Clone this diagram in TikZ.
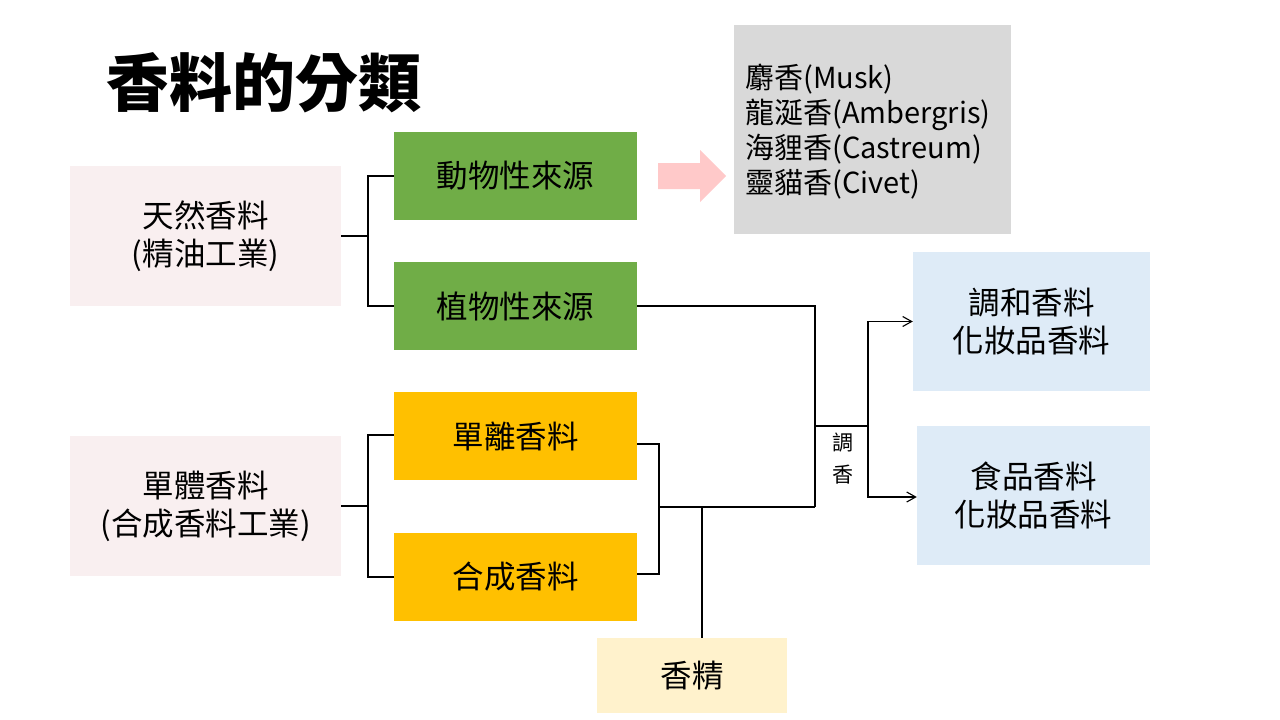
\documentclass[tikz,border=0pt]{standalone}
\usepackage{fontspec}
\setmainfont{Noto Sans CJK TC}
\usetikzlibrary{arrows.meta}
\definecolor{pinkbox}{HTML}{F9EFF0}
\definecolor{greenbox}{HTML}{70AD47}
\definecolor{orangebox}{HTML}{FFC000}
\definecolor{yellowbox}{HTML}{FFF2CC}
\definecolor{bluebox}{HTML}{DEEBF7}
\definecolor{greybox}{HTML}{D9D9D9}
\definecolor{pinkarrow}{HTML}{FFC9C9}
\tikzset{
  box/.style={draw=none, inner sep=0pt, align=center, font=\fontsize{31.5}{38}\selectfont, text=black},
  conn/.style={draw=black, line width=1.3pt},
  arr/.style={conn, -{Straight Barb[length=9pt,width=10pt,line width=1.1pt]}},
}
\begin{document}
\begin{tikzpicture}[x=1pt,y=-1pt]
\useasboundingbox (0,0) rectangle (1280,720);
\fill[white] (0,0) rectangle (1280,720);
% title
\node[font=\fontsize{63}{68}\selectfont\bfseries] (title) at (264,83) {香料的分類};
% boxes
\node[box, fill=pinkbox, minimum width=271pt, minimum height=140pt] (nat) at (205.5,236) {天然香料\\(精油工業)};
\node[box, fill=greenbox, minimum width=243pt, minimum height=88pt] (ani) at (515.5,176) {動物性來源};
\node[box, fill=greenbox, minimum width=243pt, minimum height=88pt] (pla) at (515.5,306) {植物性來源};
\node[box, fill=pinkbox, minimum width=271pt, minimum height=140pt] (mono) at (205.5,506) {單體香料\\(合成香料工業)};
\node[box, fill=orangebox, minimum width=243pt, minimum height=88pt] (iso) at (515.5,436) {單離香料};
\node[box, fill=orangebox, minimum width=243pt, minimum height=88pt] (syn) at (515.5,577) {合成香料};
\node[box, fill=yellowbox, minimum width=190pt, minimum height=75pt] (jing) at (692,675.5) {香精};
\node[box, fill=greybox, minimum width=277pt, minimum height=209pt] (grey) at (872.5,129.5) {};
\node[anchor=west, inner sep=0pt, align=left, font=\fontsize{29}{35}\selectfont] (musk) at (745,131.5) {麝香(Musk)\\龍涎香(Ambergris)\\海貍香(Castreum)\\靈貓香(Civet)};
\node[box, fill=bluebox, minimum width=237pt, minimum height=139pt] (blend) at (1031.5,321.5) {調和香料\\化妝品香料};
\node[box, fill=bluebox, minimum width=233pt, minimum height=139pt] (food) at (1033.5,495.5) {食品香料\\化妝品香料};
% pink arrow
\fill[pinkarrow] (658,163) -- (700,163) -- (700,150) -- (726,176) -- (700,202) -- (700,189) -- (658,189) -- cycle;
% junction coordinates
\coordinate (j1) at (368,236);
\coordinate (j2) at (368,506);
\coordinate (j3) at (659,507);
\coordinate (j5) at (702,507);
\coordinate (c1) at (815,507);
\coordinate (c2) at (815,426);
\coordinate (c3) at (868,426);
% connectors
\draw[conn] (nat.east) -- (j1);
\draw[conn] (ani.west) -| (j1) |- (pla.west);
\draw[conn] (mono.east) -- (j2);
\draw[conn] ([yshift=1pt]iso.west) -| (j2) |- (syn.west);
\draw[conn] ([yshift=-8pt]iso.east) -| (j3) |- ([yshift=3pt]syn.east);
\draw[conn] (j3) -- (c1);
\draw[conn] (pla.east) -| (c1);
\draw[conn] ([xshift=10pt]jing.north) -- (j5);
\draw[conn] (c2) -- (c3);
\draw[arr] (c3) |- (blend.west);
\draw[arr] (c3) |- ([yshift=-1.5pt]food.west);
\node[align=center, inner sep=0pt, font=\fontsize{21}{32}\selectfont] (tiao) at (843,459) {調\\香};
\end{tikzpicture}
\end{document}
